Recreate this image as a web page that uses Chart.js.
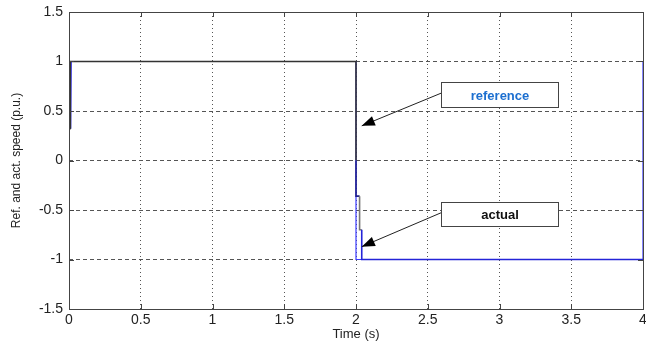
<!DOCTYPE html>
<html>
<head>
<meta charset="utf-8">
<script src="https://cdn.jsdelivr.net/npm/chart.js@4/dist/chart.umd.min.js"></script>
<style>
  body { margin: 0; background: #fff; }
  canvas { display: block; }
</style>
</head>
<body>
<canvas id="chart" width="646" height="345"></canvas>
<script>
// tick positions
const timeTicks = [0, 0.5, 1, 1.5, 2, 2.5, 3, 3.5, 4];
const speedTicks = [-1.5, -1, -0.5, 0, 0.5, 1, 1.5];

// reference speed (p.u.)
const refTime  = [0.012, 0.012, 0.008, 0.008, 2, 2, 2, 2.025, 2.025, 2.04, 2.04, 4];
const refSpeed = [0.32, 0.66, 0.66, 1, 1, 0, -0.36, -0.36, -0.7, -0.7, -1, -1];

// actual speed (p.u.)
const actTime  = [0.012, 0.016, 2, 2, 4, 4];
const actSpeed = [0.32, 1, 1, -1, -1, 1];

// callout boxes: box corners and arrow tip in data units
const callouts = [
  { text: 'reference', color: '#1c6fd0', x0: 2.595, x1: 3.405, y0: 0.79, y1: 0.54, tipX: 2.04, tipY: 0.35 },
  { text: 'actual',    color: '#111',    x0: 2.595, x1: 3.405, y0: -0.42, y1: -0.66, tipX: 2.04, tipY: -0.87 }
];

const toPoints = (xs, ys) => xs.map((x, i) => ({ x: x, y: ys[i] }));

const framePlugin = {
  id: 'frame',
  afterDraw(chart) {
    const ctx = chart.ctx;
    const a = chart.chartArea;
    const xs = chart.scales.x, ys = chart.scales.y;
    ctx.save();
    ctx.strokeStyle = '#444';
    ctx.lineWidth = 1;
    ctx.setLineDash([]);
    ctx.strokeRect(Math.round(a.left) + 0.5, Math.round(a.top) + 0.5,
                   Math.round(a.right - a.left), Math.round(a.bottom - a.top));
    // inward ticks
    ctx.beginPath();
    timeTicks.forEach(t => {
      const px = Math.round(xs.getPixelForValue(t)) + 0.5;
      ctx.moveTo(px, a.bottom); ctx.lineTo(px, a.bottom - 5);
      ctx.moveTo(px, a.top); ctx.lineTo(px, a.top + 5);
    });
    speedTicks.forEach(v => {
      const py = Math.round(ys.getPixelForValue(v)) + 0.5;
      ctx.moveTo(a.left, py); ctx.lineTo(a.left + 5, py);
      ctx.moveTo(a.right, py); ctx.lineTo(a.right - 5, py);
    });
    ctx.stroke();

    // callouts
    callouts.forEach(c => {
      const l = Math.round(xs.getPixelForValue(c.x0)) + 0.5;
      const r = Math.round(xs.getPixelForValue(c.x1)) + 0.5;
      const t = Math.round(ys.getPixelForValue(c.y0)) + 0.5;
      const b = Math.round(ys.getPixelForValue(c.y1)) + 0.5;
      const tx = xs.getPixelForValue(c.tipX), ty = ys.getPixelForValue(c.tipY);
      const sx = l, sy = t + (b - t) * 0.42;
      ctx.strokeStyle = '#222';
      ctx.lineWidth = 1;
      ctx.beginPath();
      ctx.moveTo(sx, sy); ctx.lineTo(tx, ty);
      ctx.stroke();
      const ang = Math.atan2(ty - sy, tx - sx);
      const len = 14, half = 0.36;
      ctx.fillStyle = '#000';
      ctx.beginPath();
      ctx.moveTo(tx, ty);
      ctx.lineTo(tx - len * Math.cos(ang - half), ty - len * Math.sin(ang - half));
      ctx.lineTo(tx - len * Math.cos(ang + half), ty - len * Math.sin(ang + half));
      ctx.closePath();
      ctx.fill();
      ctx.fillStyle = '#fff';
      ctx.fillRect(l, t, r - l, b - t);
      ctx.strokeStyle = '#444';
      ctx.strokeRect(l, t, r - l, b - t);
      ctx.fillStyle = c.color;
      ctx.font = 'bold 13px "Liberation Sans", Arial, sans-serif';
      ctx.textAlign = 'center';
      ctx.textBaseline = 'middle';
      ctx.fillText(c.text, (l + r) / 2, (t + b) / 2 + 1);
    });
    ctx.restore();
  }
};

const whiteBg = {
  id: 'whiteBg',
  beforeDraw(chart) {
    const ctx = chart.ctx;
    ctx.save();
    ctx.fillStyle = '#fff';
    ctx.fillRect(0, 0, chart.width, chart.height);
    ctx.restore();
  }
};

new Chart(document.getElementById('chart'), {
  type: 'line',
  data: {
    datasets: [
      {
        label: 'reference',
        data: toPoints(refTime, refSpeed),
        borderColor: '#333',
        borderWidth: 1.6,
        segment: {
          borderColor: c => {
            const x = c.p0.parsed.x, y = c.p0.parsed.y;
            if (x >= 2.04) return '#2424d8';
            if (x > 2.01) return '#777';
            if (x >= 2 && y <= 0) return '#20208a';
            return '#333';
          }
        },
        pointRadius: 0,
        tension: 0,
        fill: false
      },
      {
        label: 'actual',
        data: toPoints(actTime, actSpeed),
        borderColor: '#3a3aff',
        borderWidth: 1.2,
        pointRadius: 0,
        tension: 0,
        fill: false
      }
    ]
  },
  options: {
    responsive: false,
    animation: false,
    layout: { padding: { top: 12, right: 3, left: 0, bottom: 0 } },
    plugins: { legend: { display: false }, tooltip: { enabled: false } },
    scales: {
      x: {
        type: 'linear',
        min: 0, max: 4,
        afterBuildTicks: s => { s.ticks = timeTicks.map(v => ({ value: v })); },
        afterFit: s => { s.height = 36; s.paddingLeft = 0; s.paddingRight = 0; },
        ticks: {
          color: '#222',
          padding: 3,
          maxRotation: 0,
          autoSkip: false,
          callback: v => String(v),
          font: { family: '"Liberation Sans", Arial, sans-serif', size: 14 }
        },
        grid: { color: '#555', lineWidth: 1, drawTicks: false },
        border: { display: false, dash: [1, 3] },
        title: {
          display: true,
          text: 'Time (s)',
          color: '#222',
          padding: { top: 0, bottom: 3 },
          font: { family: '"Liberation Sans", Arial, sans-serif', size: 13 }
        }
      },
      y: {
        min: -1.5, max: 1.5,
        afterBuildTicks: s => { s.ticks = speedTicks.map(v => ({ value: v })); },
        afterFit: s => { s.width = 69; s.paddingTop = 0; s.paddingBottom = 0; },
        ticks: {
          color: '#222',
          padding: 6,
          autoSkip: false,
          callback: v => String(v),
          font: { family: '"Liberation Sans", Arial, sans-serif', size: 14 }
        },
        grid: { color: '#555', lineWidth: 1, drawTicks: false },
        border: { display: false, dash: [4, 3] },
        title: {
          display: true,
          text: 'Ref. and act. speed (p.u.)',
          color: '#222',
          padding: { top: 9, bottom: 0 },
          font: { family: '"Liberation Sans", Arial, sans-serif', size: 12 }
        }
      }
    }
  },
  plugins: [whiteBg, framePlugin]
});
</script>
</body>
</html>
